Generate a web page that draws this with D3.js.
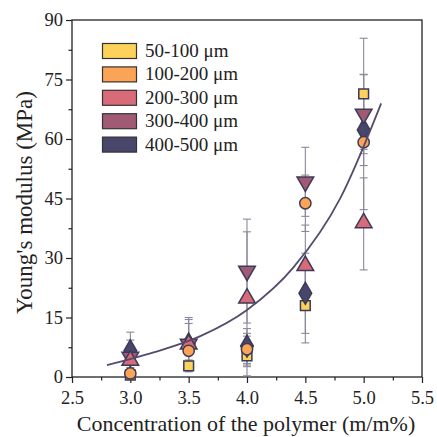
<!DOCTYPE html>
<html><head><meta charset="utf-8">
<script src="https://cdn.jsdelivr.net/npm/d3@7"></script>
<style>body{margin:0;background:#fff}svg text{font-family:"Liberation Serif","Times New Roman",Times,"DejaVu Serif",serif !important}</style>
</head><body><svg id="c" width="437" height="437"></svg>
<script>
const concentrations = [3.0, 3.5, 4.0, 4.5, 5.0];
const seriesNames = ["50-100 μm", "100-200 μm", "200-300 μm", "300-400 μm", "400-500 μm"];
const seriesColors = ["#fcd25a", "#fca455", "#d96b78", "#a05a74", "#48476b"];
const seriesShapes = ["square", "circle", "triangleUp", "triangleDown", "diamond"];
const values50_100  = [0.5, 2.8, 5.3, 18.0, 71.4];
const values100_200 = [0.9, 6.6, 7.0, 43.8, 59.2];
const values200_300 = [3.9, 8.0, 19.6, 27.8, 38.6];
const values300_400 = [5.0, 8.3, 26.7, 49.2, 66.3];
const values400_500 = [6.6, 8.3, 7.8, 21.1, 62.3];
const errors50_100  = [1.0, 1.5, 5.0, 9.4, 14.0];
const errors100_200 = [1.5, 3.0, 4.0, 7.1, 17.0];
const errors200_300 = [2.0, 5.5, 17.0, 10.5, 11.6];
const errors300_400 = [4.3, 6.2, 13.1, 8.7, 10.0];
const errors400_500 = [4.7, 6.7, 4.4, 10.1, 9.0];
const fitX = [2.8, 3.2, 3.6, 4.0, 4.4, 4.8, 5.15];
const fitY = [3.0, 6.2, 10.3, 16.9, 27.7, 45.1, 69.0];
const xTicks = [2.5, 3.0, 3.5, 4.0, 4.5, 5.0, 5.5];
const yTicks = [0, 15, 30, 45, 60, 75, 90];

const allValues = [values50_100, values100_200, values200_300, values300_400, values400_500];
const allErrors = [errors50_100, errors100_200, errors200_300, errors300_400, errors400_500];

const FONT = '"Liberation Serif","Times New Roman",Times,"DejaVu Serif",serif';
const svg = d3.select("#c").attr("font-family", FONT);
const L = 72, R = 422, T = 20, B = 377;
const x = d3.scaleLinear().domain([2.5, 5.5]).range([L, R]);
const y = d3.scaleLinear().domain([0, 90]).range([B, T]);
const edge = "#3c3a58";
const axisColor = "#222";

// frame
svg.append("rect").attr("x", L).attr("y", T).attr("width", R - L).attr("height", B - T)
  .attr("fill", "none").attr("stroke", axisColor).attr("stroke-width", 1.3);

// axes
const xMinor = d3.range(2.75, 5.5, 0.5);
const yMinor = d3.range(7.5, 90, 15);
const gx = svg.append("g").attr("transform", `translate(0,${B})`)
  .call(d3.axisBottom(x).tickValues(xTicks).tickFormat(d3.format(".1f")).tickSize(6).tickPadding(5));
const gxm = svg.append("g").attr("transform", `translate(0,${B})`)
  .call(d3.axisBottom(x).tickValues(xMinor).tickFormat("").tickSize(3.5));
const gy = svg.append("g").attr("transform", `translate(${L},0)`)
  .call(d3.axisLeft(y).tickValues(yTicks).tickSize(6).tickPadding(3));
const gym = svg.append("g").attr("transform", `translate(${L},0)`)
  .call(d3.axisLeft(y).tickValues(yMinor).tickFormat("").tickSize(3.5));
[gx, gxm, gy, gym].forEach(g => {
  g.attr("font-family", FONT).attr("font-size", 18.5);
  g.select(".domain").remove();
  g.selectAll("line").attr("stroke", axisColor).attr("stroke-width", 1.2);
  g.selectAll("text").attr("fill", "#222");
});
gx.selectAll("text").attr("dy", "0.85em");

// labels
svg.append("text").attr("x", 246).attr("y", 431).attr("text-anchor", "middle")
  .attr("font-size", 22).attr("fill", "#222").text("Concentration of the polymer (m/m%)");
svg.append("text").attr("transform", `translate(32,${(T + B) / 2 + 4}) rotate(-90)`).attr("text-anchor", "middle")
  .attr("font-size", 23).attr("fill", "#222").text("Young's modulus (MPa)");

// error bars
const eg = svg.append("g");
allValues.forEach((vals, si) => {
  vals.forEach((v, i) => {
    const e = allErrors[si][i];
    const cx = x(concentrations[i]);
    eg.append("line").attr("x1", cx).attr("x2", cx).attr("y1", y(v - e)).attr("y2", y(v + e))
      .attr("stroke", "#8a889c").attr("stroke-width", 1.1);
    [v - e, v + e].forEach(cv => {
      eg.append("line").attr("x1", cx - 4).attr("x2", cx + 4).attr("y1", y(cv)).attr("y2", y(cv))
        .attr("stroke", "#8a889c").attr("stroke-width", 1.1);
    });
  });
});

// markers
const symMap = {
  square: d3.symbol().type(d3.symbolSquare).size(95),
  circle: d3.symbol().type(d3.symbolCircle).size(100),
  triangleUp: d3.symbol().type(d3.symbolTriangle).size(120),
  triangleDown: d3.symbol().type(d3.symbolTriangle).size(120),
  diamond: d3.symbol().type(d3.symbolDiamond).size(140)
};
const drawOrder = [0, 4, 3, 2, 1];
const mg = svg.append("g");
drawOrder.forEach(si => {
  allValues[si].forEach((v, i) => {
    const shape = seriesShapes[si];
    let tr = `translate(${x(concentrations[i])},${y(v)})`;
    if (shape === "triangleDown") tr += " rotate(180)";
    if (shape === "triangleUp") tr += " translate(0,-1)";
    mg.append("path").attr("d", symMap[shape]()).attr("transform", tr)
      .attr("fill", seriesColors[si]).attr("stroke", edge).attr("stroke-width", 1.5);
  });
});

// fit curve
const line = d3.line().x((d, i) => x(fitX[i])).y((d) => y(d)).curve(d3.curveMonotoneX);
svg.append("path").attr("d", line(fitY)).attr("fill", "none").attr("stroke", "#564b6c").attr("stroke-width", 1.8);

// legend
const lg = svg.append("g");
seriesNames.forEach((n, i) => {
  const yy = 43.5 + i * 23.4;
  lg.append("rect").attr("x", 102.5).attr("y", yy).attr("width", 34).attr("height", 15)
    .attr("fill", seriesColors[i]).attr("stroke", "#333").attr("stroke-width", 1.2);
  lg.append("text").attr("x", 145).attr("y", yy + 13.5).attr("font-size", 19).attr("fill", "#222").text(n);
});
</script></body></html>
